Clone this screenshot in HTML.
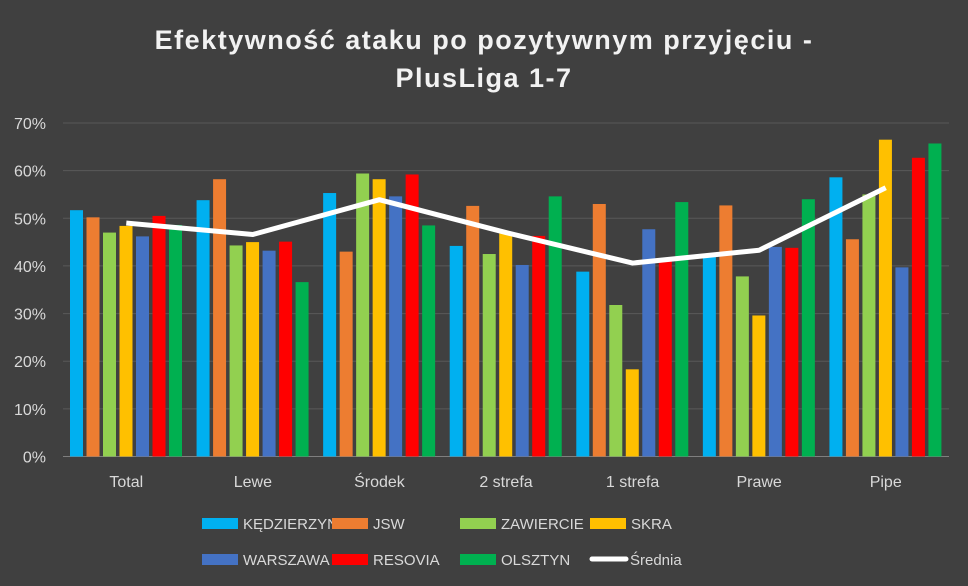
<!DOCTYPE html>
<html><head><meta charset="utf-8"><style>
body{margin:0;background:#404040;}
svg{display:block;font-family:"Liberation Sans",sans-serif;}
</style></head><body>
<svg id="c" width="968" height="586">
<rect width="968" height="586" fill="#404040"/>
<text x="484" y="49" text-anchor="middle" fill="#f2f2f2" font-size="27" font-weight="bold" letter-spacing="1.5">Efektywność ataku po pozytywnym przyjęciu -</text>
<text x="484" y="87" text-anchor="middle" fill="#f2f2f2" font-size="27" font-weight="bold" letter-spacing="1.5">PlusLiga 1-7</text>
<g id="grid"></g><g id="bars"></g><g id="line"></g><g id="legend"></g>
</svg>
<script>
const categories=["Total","Lewe","Środek","2 strefa","1 strefa","Prawe","Pipe"];
const seriesNames=["KĘDZIERZYN","JSW","ZAWIERCIE","SKRA","WARSZAWA","RESOVIA","OLSZTYN"];
const kedzierzyn=[51.7,53.8,55.3,44.2,38.8,42,58.6];
const jsw=[50.2,58.2,43,52.6,53,52.7,45.6];
const zawiercie=[47,44.3,59.4,42.5,31.8,37.8,55];
const skra=[48.4,45,58.2,46.8,18.3,29.6,66.5];
const warszawa=[46.2,43.2,54.6,40.2,47.7,44,39.7];
const resovia=[50.5,45.1,59.2,46.3,41,43.8,62.7];
const olsztyn=[48.6,36.6,48.5,54.6,53.4,54,65.7];
const srednia=[49,46.6,53.9,47,40.6,43.3,56.4];
const yTicks=[0,10,20,30,40,50,60,70];
const colors=["#00b0f0","#ed7d31","#92d050","#ffc000","#4472c4","#ff0000","#00b050"];
const series=[kedzierzyn,jsw,zawiercie,skra,warszawa,resovia,olsztyn];
const NS="http://www.w3.org/2000/svg";
const x0=63,x1=949,y0=456.5,yTop=123;
const gw=(x1-x0)/categories.length;
const y=v=>y0-(v/70)*(y0-yTop);
const gx=i=>x0+gw*i;
function mk(t,a,p){const e=document.createElementNS(NS,t);for(const k in a)e.setAttribute(k,a[k]);p.appendChild(e);return e;}
const grid=document.getElementById('grid');
yTicks.forEach(t=>{
 const l=mk('line',{x1:x0,x2:x1,y1:y(t),y2:y(t),stroke:t===0?'#7f7f7f':'#595959','stroke-width':1},grid);
 
 
 const tx=mk('text',{x:46,y:y(t)+6,'text-anchor':'end',fill:'#d9d9d9','font-size':16},grid);
 tx.textContent=t+'%';
 
 
});
categories.forEach((c,i)=>{
 const tx=mk('text',{x:gx(i)+gw/2,y:487,'text-anchor':'middle',fill:'#d9d9d9','font-size':16},grid);
 tx.textContent=c;
 
 
});
const bars=document.getElementById('bars');
series.forEach((s,j)=>{s.forEach((v,i)=>{
 const r=mk('rect',{x:gx(i)+7+j*16.5,y:y(v),width:13,height:y0-y(v),fill:colors[j]},bars);
 
 
});});
const pts=srednia.map((v,i)=>(gx(i)+gw/2)+','+y(v)).join(' ');
const pl=mk('polyline',{points:pts,fill:'none',stroke:'#fff','stroke-width':5,'stroke-linejoin':'round'},document.getElementById('line'));


const lg=document.getElementById('legend');
const lx=[202,332,460,590];
const names=seriesNames.concat(["Średnia"]);
names.forEach((n,k)=>{
 const row=k<4?0:1, col=k%4;
 let sx=lx[col], ty=row?559:523;
 if(k===7) sx=590;
 if(k<7){const r=mk('rect',{x:sx,y:ty-5,width:36,height:11,fill:colors[k]},lg);
  
  }
 else{const l=mk('line',{x1:sx+2,x2:sx+36,y1:ty,y2:ty,stroke:'#fff','stroke-width':5,'stroke-linecap':'round'},lg);
  
  }
 const t=mk('text',{x:sx+(k===7?40:41),y:ty+6,fill:'#d9d9d9','font-size':15},lg);
 t.textContent=n;
 
 
});
</script>
</body></html>
